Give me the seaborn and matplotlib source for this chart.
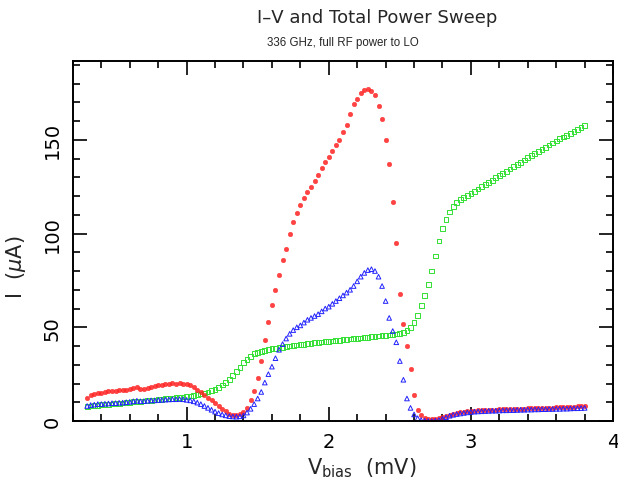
import numpy as np
import pandas as pd
import matplotlib
matplotlib.use("Agg")
import matplotlib.pyplot as plt
import seaborn as sns

# bias sweep, 0.3 .. 3.8 mV in 25 uV steps
v_bias = np.round(np.linspace(0.3, 3.8, 141), 3)

# pumped I-V (red dots)
i_pumped = [
    12.5, 14.0, 14.5, 15.0, 15.2, 15.5, 15.8, 16.0, 16.0, 16.3,
    16.5, 16.8, 17.0, 17.5, 18.2, 17.0, 17.2, 17.8, 18.2, 18.6,
    19.0, 19.3, 19.8, 20.0, 20.2, 20.0, 20.2, 20.0, 19.5, 19.0,
    18.0, 16.8, 15.5, 14.0, 12.5, 11.0, 9.5, 8.0, 6.5, 5.2,
    4.0, 3.2, 3.0, 3.5, 5.0, 7.0, 11.0, 16.0, 23.0, 32.0,
    43.0, 53.0, 62.0, 70.0, 78.0, 86.0, 92.0, 100.0, 106.0, 111.0,
    115.0, 119.0, 122.0, 125.0, 128.0, 131.0, 135.0, 138.0, 141.0, 144.0,
    147.0, 150.0, 154.0, 158.0, 164.0, 169.0, 172.0, 175.0, 176.5, 177.0,
    176.0, 174.0, 168.0, 161.0, 150.0, 137.0, 117.0, 95.0, 68.0, 52.0,
    40.0, 28.0, 14.0, 6.0, 3.0, 1.5, 1.0, 1.0, 1.3, 1.8,
    2.3, 2.8, 3.3, 3.8, 4.2, 4.6, 4.9, 5.2, 5.4, 5.6,
    5.7, 5.8, 5.9, 6.0, 6.1, 6.1, 6.2, 6.3, 6.3, 6.4,
    6.4, 6.5, 6.6, 6.6, 6.7, 6.8, 6.8, 6.9, 7.0, 7.0,
    7.1, 7.2, 7.3, 7.3, 7.4, 7.5, 7.6, 7.7, 7.8, 7.9,
    8.0,
]

# total power (blue triangles)
i_power = [
    8.0, 8.5, 8.7, 9.0, 9.0, 9.2, 9.3, 9.5, 9.5, 9.7,
    9.8, 10.0, 10.2, 10.5, 10.8, 10.5, 10.6, 10.8, 11.0, 11.0,
    11.2, 11.3, 11.4, 11.5, 11.6, 11.6, 11.7, 11.6, 11.3, 11.0,
    10.5, 9.8, 9.0, 8.0, 7.0, 6.0, 5.0, 4.2, 3.5, 3.0,
    2.6, 2.4, 2.3, 2.5, 3.0, 4.5, 6.5, 9.0, 12.0, 15.5,
    20.5, 25.0, 29.0, 33.5, 38.0, 41.0, 44.0, 46.5, 48.5, 50.0,
    51.0, 52.5, 54.0, 55.0, 56.0, 57.0, 58.5, 60.0, 61.0, 62.5,
    64.0, 65.5, 67.0, 68.5, 70.0, 72.0, 74.5, 77.0, 79.0, 80.5,
    81.0, 80.0, 77.0, 72.0, 64.0, 55.0, 48.0, 42.0, 32.0, 22.0,
    12.0, 7.0, 3.5, 1.5, 0.5, 0.2, 0.0, 0.0, 0.2, 0.5,
    1.2, 2.0, 2.8, 3.3, 3.7, 4.0, 4.3, 4.6, 4.8, 5.0,
    5.1, 5.2, 5.3, 5.4, 5.5, 5.5, 5.6, 5.7, 5.7, 5.8,
    5.8, 5.9, 6.0, 6.0, 6.1, 6.1, 6.2, 6.2, 6.3, 6.3,
    6.4, 6.4, 6.5, 6.5, 6.6, 6.6, 6.7, 6.8, 6.8, 6.9,
    7.0,
]

# unpumped I-V (green squares)
i_dark = [
    7.8, 8.0, 8.2, 8.4, 8.6, 8.8, 9.0, 9.1, 9.3, 9.5,
    9.6, 9.8, 10.0, 10.2, 10.4, 10.5, 10.7, 10.9, 11.0, 11.2,
    11.4, 11.6, 11.8, 12.0, 12.2, 12.4, 12.6, 12.8, 13.0, 13.3,
    13.6, 14.0, 14.4, 14.9, 15.5, 16.2, 17.0, 18.0, 19.2, 20.6,
    22.3, 24.2, 26.4, 28.7, 31.0, 33.0, 34.6, 35.8, 36.6, 37.2,
    37.7, 38.1, 38.5, 38.8, 39.1, 39.4, 39.7, 40.0, 40.2, 40.5,
    40.7, 41.0, 41.2, 41.4, 41.7, 41.9, 42.1, 42.3, 42.5, 42.7,
    42.9, 43.1, 43.3, 43.5, 43.7, 43.9, 44.1, 44.3, 44.5, 44.7,
    44.9, 45.1, 45.3, 45.5, 45.7, 45.9, 46.1, 46.4, 46.8, 47.3,
    48.2, 49.8, 52.5, 56.5, 61.5, 67.0, 73.0, 80.0, 88.0, 96.0,
    102.5, 107.5, 111.5, 114.5, 116.5, 118.0, 119.3, 120.5, 121.5, 122.6,
    123.8, 125.0, 126.2, 127.3, 128.5, 129.7, 130.9, 132.0, 133.2, 134.4,
    135.6, 136.8, 138.0, 139.2, 140.4, 141.6, 142.8, 143.9, 145.0, 146.1,
    147.2, 148.3, 149.4, 150.5, 151.5, 152.5, 153.5, 154.5, 155.5, 156.5,
    157.5,
]

sns.set_style("ticks")
plt.rcParams['font.family'] = ['DejaVu Sans']

fig = plt.figure(figsize=(6.18, 4.89), dpi=100)
ax = fig.add_axes([0.118, 0.137, 0.874, 0.736])

df = pd.DataFrame({'V': v_bias, 'pumped': i_pumped, 'power': i_power, 'dark': i_dark})

sns.scatterplot(data=df, x='V', y='dark', ax=ax, marker='s', s=12,
                facecolor='none', edgecolor='#33e033', linewidth=0.7, legend=False)
sns.scatterplot(data=df, x='V', y='pumped', ax=ax, marker='o', s=11,
                color='#ff2222', edgecolor='#ff2222', linewidth=0.3, alpha=0.85, legend=False)
sns.scatterplot(data=df, x='V', y='power', ax=ax, marker='^', s=11,
                facecolor='none', edgecolor='#2222ff', linewidth=0.7, legend=False)

ax.set_xlim(0.2, 4.0)
ax.set_ylim(0, 192)
ax.set_xticks([1, 2, 3, 4])
ax.set_xticks(np.arange(0.2, 4.01, 0.2), minor=True)
ax.set_yticks([0, 50, 100, 150])
ax.set_yticks(np.arange(0, 191, 10), minor=True)
ax.tick_params(which='both', direction='in', top=True, right=True, width=1.2, colors='black')
ax.tick_params(which='major', length=10, labelsize=14, pad=8)
ax.tick_params(which='minor', length=5)
for lab in ax.get_yticklabels():
    lab.set_rotation(90)
    lab.set_va('center')
for sp in ax.spines.values():
    sp.set_linewidth(1.4)
    sp.set_color('black')

ax.set_xlabel(r'V$_{\rm bias}$  (mV)', fontsize=15)
ax.set_ylabel(r'I  ($\mu$A)', fontsize=15)
ax.xaxis.set_label_coords(0.535, -0.095)
ax.yaxis.set_label_coords(-0.083, 0.43)

fig.text(0.611, 0.963, 'I–V and Total Power Sweep', ha='center', va='center', fontsize=13)
fig.text(0.555, 0.912, '336 GHz, full RF power to LO', ha='center', va='center', fontsize=8.3,
         family=['Liberation Sans', 'DejaVu Sans'])

fig.savefig('out.png', dpi=100)
